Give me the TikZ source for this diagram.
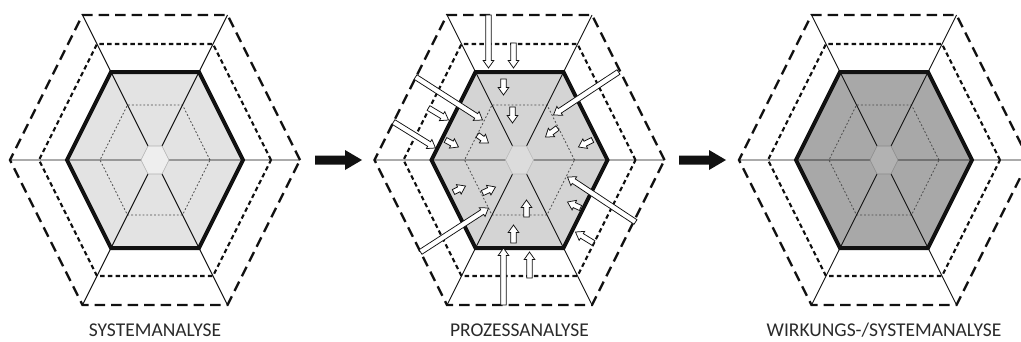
\documentclass[tikz,border=0pt]{standalone}
\usepackage{fontspec}
\setmainfont{Carlito}
\usetikzlibrary{calc}
\definecolor{ink}{HTML}{111111}
\definecolor{label}{HTML}{2A2A2A}
\definecolor{dotgray}{HTML}{4A4A4A}
\definecolor{fillone}{HTML}{E3E3E3}
\definecolor{coreone}{HTML}{EEEEEE}
\definecolor{lineone}{HTML}{B0B0B0}
\definecolor{filltwo}{HTML}{D4D4D4}
\definecolor{coretwo}{HTML}{DCDCDC}
\definecolor{linetwo}{HTML}{B8B8B8}
\definecolor{fillthree}{HTML}{A8A8A8}
\definecolor{corethree}{HTML}{B2B2B2}
\definecolor{linethree}{HTML}{8A8A8A}
\tikzset{
  hexthick/.style={draw=ink,line width=4pt,line join=miter},
  hexdash/.style={draw=ink,line width=2.3pt,dash pattern=on 10.5pt off 6pt},
  hexshort/.style={draw=ink,line width=2.2pt,dash pattern=on 4.5pt off 3.2pt},
  hexdot/.style={draw=dotgray,line width=.8pt,dash pattern=on 1.8pt off 2pt},
  spoke/.style={draw=ink,line width=.9pt},
  openarrow/.style={draw=ink,fill=white,line width=.75pt,line join=miter},
  bigarrow/.style={fill=ink},
  caption/.style={font=\fontsize{19.5}{22}\selectfont,anchor=base,inner sep=1pt,text=label},
}
% hexagon of half width #1 (flat top, stretched to height #1)
\newcommand\hexa[1]{(#1,0) -- (#1/2,#1) -- (-#1/2,#1) -- (-#1,0) -- (-#1/2,-#1) -- (#1/2,-#1) -- cycle}
% one panel: x of centre, fill, core fill, core line
\newcommand\hexpanel[4]{%
  \begin{scope}[shift={(#1,181)}]
    \fill[#2] \hexa{88};
    \draw[hexdot] \hexa{55};
    \draw[spoke] (-145,0) -- (145,0) (-72.5,145) -- (72.5,-145) (72.5,145) -- (-72.5,-145);
    \filldraw[fill=#3,draw=#4,line width=.6pt] \hexa{14};
    \draw[hexthick] \hexa{88};
    \draw[hexshort] \hexa{116};
    \draw[hexdash] \hexa{145};
  \end{scope}}

\begin{document}
\begin{tikzpicture}[x=1pt,y=1pt]
  \useasboundingbox (0,0) rectangle (1021,341);

  \hexpanel{155}{fillone}{coreone}{lineone}
  \hexpanel{519.5}{filltwo}{coretwo}{linetwo}
  \hexpanel{884}{fillthree}{corethree}{linethree}

  % inflows of the process analysis
  \begin{scope}[shift={(519.5,181)}]
    \foreach \ax/\ay/\bx/\by in {
        -31/145/-31/92, -6/117/-6/92, -16/81/-16/65, -7/53/-7/37,
        -104/83/-37/40, -91/52/-71/40, -126/38/-84/12, -74/20/-61/13, -42/25/-31/17,
        99/88/34/45, 38/32/26/23, 73/20/59/13,
        -66/-32/-54/-26, -37/-33/-24/-27, -99/-92/-31/-48,
        7/-57/7/-40, -6/-83/-6/-65, -16/-145/-16/-88, 10/-118/10/-92,
        116/-62/48/-17, 61/-48/48/-42, 74/-83/56/-72} {
      \pgfmathsetmacro\len{veclen(\bx-\ax,\by-\ay)}
      \pgfmathsetmacro\ang{atan2(\by-\ay,\bx-\ax)}
      \draw[openarrow,shift={(\ax,\ay)},rotate=\ang]
        (0,-2.7) -- ({\len-7.5},-2.7) -- ({\len-7.5},-5.3) -- (\len,0)
        -- ({\len-7.5},5.3) -- ({\len-7.5},2.7) -- (0,2.7) -- cycle;
    }
  \end{scope}

  \foreach \s in {315,679}
    \fill[bigarrow] (\s,176.5) -- (\s+30,176.5) -- (\s+30,171) -- (\s+47,181)
      -- (\s+30,191) -- (\s+30,185.5) -- (\s,185.5) -- cycle;

  \node[caption] (sys) at (155,5) {SYSTEMANALYSE};
  \node[caption] (proz) at (519.5,5) {PROZESSANALYSE};
  \node[caption] (wirk) at (884,5) {WIRKUNGS-/SYSTEMANALYSE};
\end{tikzpicture}
\end{document}
